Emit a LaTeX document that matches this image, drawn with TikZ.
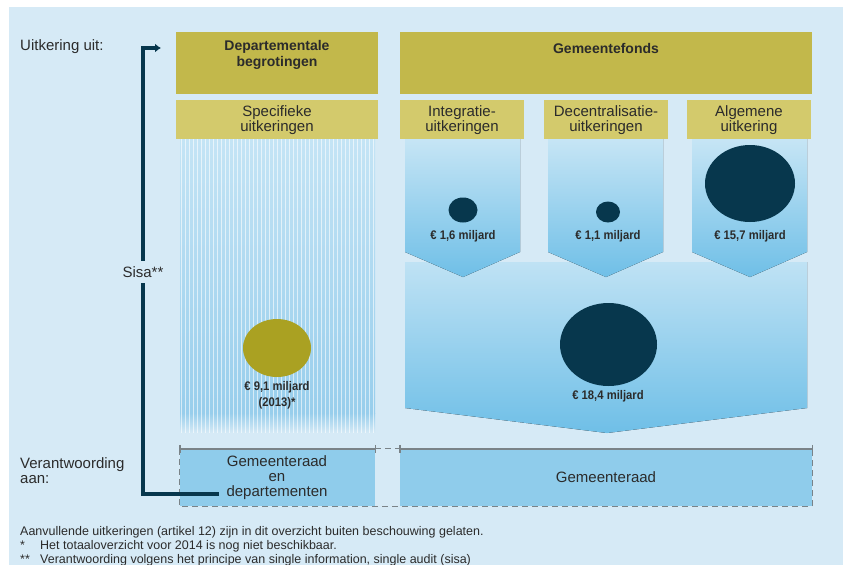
\documentclass[tikz,border=0pt]{standalone}
\usepackage{fontspec}
\setmainfont{Liberation Sans}
\newfontfamily\condfont[FakeStretch=0.9]{Liberation Sans}
\usetikzlibrary{arrows.meta}
\definecolor{bgblue}{HTML}{D6EAF6}
\definecolor{goldA}{HTML}{C2B84B}
\definecolor{goldB}{HTML}{D3CA6C}
\definecolor{arrTop}{HTML}{C6E5F5}
\definecolor{arrBot}{HTML}{6FBFE7}
\definecolor{bigTop}{HTML}{BFE2F4}
\definecolor{navy}{HTML}{07374D}
\definecolor{goldC}{HTML}{AAA122}
\definecolor{boxblue}{HTML}{8FCCEB}
\definecolor{dashgray}{HTML}{7A8388}
\definecolor{txt}{HTML}{2B2B2B}
\definecolor{strTop}{HTML}{C4E4F5}
\definecolor{strBot}{HTML}{98CEEC}
\begin{document}
\begin{tikzpicture}[x=1pt,y=-1pt,
  lbl/.style={font=\fontsize{15}{15}\selectfont, text=txt, inner sep=0, align=center},
  blbl/.style={font=\fontsize{14}{16}\selectfont\bfseries, text=txt, inner sep=0, align=center},
  amt/.style={font=\condfont\fontsize{12.5}{16}\selectfont\bfseries, text=txt, inner sep=0, align=center},
  note/.style={font=\fontsize{12.5}{14}\selectfont, text=txt, inner sep=0, anchor=west},
  goldtop/.style={fill=goldA, inner sep=0, minimum height=62pt},
  goldsub/.style={fill=goldB, inner sep=0, minimum height=39pt, minimum width=124pt},
  boxfill/.style={fill=boxblue, inner sep=0, minimum height=57pt},
  navyline/.style={draw=navy, line width=3.4pt},
  bracket/.style={draw=dashgray, line width=1.4pt},
  dashline/.style={draw=dashgray, line width=1.3pt, dash pattern=on 6pt off 4pt},
  arrshade/.style={top color=arrTop, bottom color=arrBot}
]
\useasboundingbox (0,0) rectangle (844,565);
\fill[white] (0,0) rectangle (844,565);
\fill[bgblue] (9,7) rectangle (843,565);

% top boxes
\node[goldtop, minimum width=202pt] (dep) at (277,63) {};
\node[goldtop, minimum width=412pt] (gf) at (606,63) {};
\node[blbl] (depT) at (277,55) {Departementale\\begrotingen};
\node[blbl] (gfT) at (606,48) {Gemeentefonds};

\node[goldsub, minimum width=202pt] (spec) at (277,119.5) {};
\node[goldsub] (integ) at (462,119.5) {};
\node[goldsub] (decen) at (606,119.5) {};
\node[goldsub] (alg) at (749,119.5) {};
\node[lbl] (specT) at (277,120) {Specifieke\\uitkeringen};
\node[lbl] (integT) at (462,120) {Integratie-\\uitkeringen};
\node[lbl] (decenT) at (606,120) {Decentralisatie-\\uitkeringen};
\node[lbl] (algT) at (749,120) {Algemene\\uitkering};

% striped area
\fill[top color=strTop, bottom color=strBot] (180,139) rectangle (375,413);
\fill[top color=strBot, bottom color=bgblue] (180,413) rectangle (375,433);
\foreach \i in {0,...,48}
  \draw[white, opacity=.6, line width=1pt] (181.5+4*\i,139) -- (181.5+4*\i,433);

% big collecting arrow
\fill[top color=bigTop, bottom color=arrBot] (405,262) -- (807,262) -- (807,408) -- (607,433) -- (405,408) -- cycle;
% three arrows
\fill[arrshade] (405,139) -- (520,139) -- (520,252) -- (463,277) -- (405,252) -- cycle;
\fill[arrshade] (548,139) -- (663,139) -- (663,252) -- (606,277) -- (548,252) -- cycle;
\fill[arrshade] (692,139) -- (807,139) -- (807,252) -- (750,277) -- (692,252) -- cycle;

% circles
\fill[navy] (463,210) ellipse (14.5 and 12.5);
\fill[navy] (608,212) ellipse (12 and 10.5);
\fill[navy] (750,183.5) ellipse (45 and 38.5);
\fill[navy] (608.5,344.5) ellipse (48.5 and 41.5);
\fill[goldC] (277,348) ellipse (34 and 29);

% amounts
\node[amt] (a1) at (463,236) {€ 1,6 miljard};
\node[amt] (a2) at (608,236) {€ 1,1 miljard};
\node[amt] (a3) at (750,236) {€ 15,7 miljard};
\node[amt] (a4) at (608,396) {€ 18,4 miljard};
\node[amt] (a5) at (277,395) {€ 9,1 miljard\\(2013)*};

% bottom boxes
\node[boxfill, minimum width=195pt] (bl) at (277.5,477.5) {};
\node[boxfill, minimum width=412pt] (br) at (606,477.5) {};
\node[lbl] (blT) at (277,478) {Gemeenteraad\\en\\departementen};
\node[lbl] (brT) at (606,477) {Gemeenteraad};

\draw[bracket] (bl.north west) -- (bl.north east);
\draw[bracket] (br.north west) -- (br.north east);
\draw[bracket] ([yshift=4pt]bl.north west) -- ([yshift=-4pt]bl.north west);
\draw[bracket] ([yshift=4pt]bl.north east) -- ([yshift=-4pt]bl.north east);
\draw[bracket] ([yshift=4pt]br.north west) -- ([yshift=-4pt]br.north west);
\draw[bracket] ([yshift=4pt]br.north east) -- ([yshift=-4pt]br.north east);
\draw[dashline] (bl.north east) -- (br.north west);
\draw[dashline] (bl.north west) -- (bl.south west) -- (br.south east) -- (br.north east);

% sisa arrow
\coordinate (depend) at (219,494);
\coordinate (uarr) at (161,48);
\draw[navyline, -{Latex[length=6pt,width=9pt]}] (depend) -- (143,494) -- (143,48) -- (uarr);
\node[lbl, fill=bgblue, inner xsep=1pt, inner ysep=5pt] (sisa) at (143,272) {Sisa**};

% left labels
\node[lbl, anchor=west, align=left] (uit) at (20,47) {Uitkering uit:};
\node[lbl, anchor=west, align=left] (ver) at (20,470.5) {Verantwoording\\aan:};

% notes
\node[note] (n1) at (20,532) {Aanvullende uitkeringen (artikel 12) zijn in dit overzicht buiten beschouwing gelaten.};
\node[note] (n2) at (20,546.5) {\makebox[20pt][l]{*}Het totaaloverzicht voor 2014 is nog niet beschikbaar.};
\node[note] (n3) at (20,560) {\makebox[20pt][l]{**}Verantwoording volgens het principe van single information, single audit (sisa)};
\end{tikzpicture}
\end{document}
